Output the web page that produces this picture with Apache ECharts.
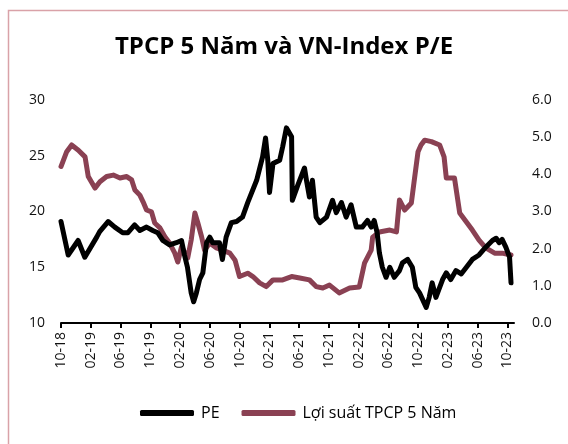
<!DOCTYPE html>
<html><head><meta charset="utf-8">
<script src="https://cdn.jsdelivr.net/npm/echarts@6/dist/echarts.min.js"></script>
<style>html,body{margin:0;padding:0;background:#fff}#c{width:568px;height:444px}</style>
</head><body><div id="c"></div>
<script>
const titleText = 'TPCP 5 Năm và VN-Index P/E';
const seriesNames = ['PE', 'Lợi suất TPCP 5 Năm'];
const tickLabels = ['10-18','02-19','06-19','10-19','02-20','06-20','10-20','02-21','06-21','10-21','02-22','06-22','10-22','02-23','06-23','10-23'];
const leftTicks = [10, 15, 20, 25, 30];
const rightTicks = [0, 1, 2, 3, 4, 5, 6];

const peDates = ['2018-10-01','2018-10-30','2018-12-10','2019-01-07','2019-02-25','2019-03-07','2019-04-11','2019-05-08','2019-06-10','2019-07-01','2019-07-28','2019-08-19','2019-09-16','2019-10-11','2019-11-01','2019-11-22','2019-12-19','2020-01-16','2020-02-07','2020-02-19','2020-03-01','2020-03-16','2020-03-26','2020-04-07','2020-04-20','2020-05-03','2020-05-18','2020-06-01','2020-06-13','2020-07-10','2020-07-22','2020-08-07','2020-08-28','2020-09-19','2020-10-13','2020-11-04','2020-12-10','2021-01-04','2021-01-16','2021-01-25','2021-02-02','2021-02-16','2021-03-13','2021-03-25','2021-04-10','2021-05-01','2021-05-04','2021-05-25','2021-06-23','2021-07-01','2021-07-13','2021-07-25','2021-08-10','2021-08-25','2021-09-22','2021-10-16','2021-11-01','2021-11-22','2021-12-11','2022-01-01','2022-01-22','2022-02-16','2022-03-07','2022-03-22','2022-04-04','2022-04-16','2022-04-25','2022-05-07','2022-05-22','2022-06-07','2022-06-25','2022-07-16','2022-07-28','2022-08-19','2022-09-08','2022-09-22','2022-10-07','2022-11-04','2022-11-16','2022-11-28','2022-12-13','2023-01-10','2023-01-25','2023-02-13','2023-03-04','2023-03-25','2023-04-16','2023-05-10','2023-06-07','2023-07-04','2023-08-01','2023-08-16','2023-08-28','2023-09-10','2023-09-25','2023-10-10','2023-10-16'];
const peValues = [19.1,16.1,17.4,15.9,17.7,18.2,19.1,18.6,18.1,18.1,18.8,18.3,18.6,18.3,18.1,17.4,17.0,17.2,17.4,16.1,15.0,12.7,11.9,12.7,13.9,14.5,17.2,17.7,17.2,17.2,15.7,17.7,19.0,19.1,19.5,20.8,22.8,24.9,26.6,24.6,21.7,24.3,24.6,25.8,27.5,26.7,21.0,22.3,23.9,22.8,21.3,22.8,19.5,19.0,19.5,21.0,19.9,20.8,19.5,20.6,18.6,18.6,19.2,18.6,19.2,18.1,16.3,15.0,14.1,15.0,14.1,14.7,15.4,15.7,15.0,13.2,12.7,11.4,12.3,13.6,12.3,13.9,14.5,13.9,14.7,14.4,15.0,15.7,16.1,16.8,17.4,17.6,17.2,17.5,16.8,15.9,13.6];

const ylDates = ['2018-10-01','2018-10-24','2018-11-14','2018-12-11','2019-01-08','2019-01-21','2019-02-18','2019-03-08','2019-04-05','2019-05-02','2019-05-29','2019-06-26','2019-07-16','2019-07-29','2019-08-19','2019-09-02','2019-09-16','2019-10-06','2019-10-19','2019-11-10','2019-11-30','2019-12-19','2020-01-10','2020-01-22','2020-02-07','2020-02-20','2020-03-02','2020-03-16','2020-03-31','2020-04-13','2020-04-28','2020-05-10','2020-06-01','2020-06-28','2020-07-22','2020-08-22','2020-09-13','2020-10-01','2020-11-04','2020-11-25','2020-12-22','2021-01-19','2021-02-16','2021-03-25','2021-05-01','2021-06-04','2021-07-13','2021-08-10','2021-09-07','2021-10-04','2021-11-13','2021-12-25','2022-02-04','2022-02-25','2022-03-22','2022-03-28','2022-04-25','2022-06-07','2022-07-04','2022-07-16','2022-08-07','2022-09-04','2022-09-16','2022-10-01','2022-10-13','2022-10-28','2022-11-25','2022-12-28','2023-01-16','2023-01-25','2023-02-28','2023-03-19','2023-04-16','2023-05-10','2023-06-07','2023-07-04','2023-08-10','2023-09-10','2023-10-16'];
const ylValues = [4.21,4.61,4.79,4.65,4.47,3.94,3.63,3.80,3.94,3.98,3.90,3.94,3.85,3.58,3.44,3.26,3.04,2.99,2.69,2.56,2.32,2.15,1.88,1.64,2.05,1.90,1.75,2.23,2.96,2.69,2.32,1.96,2.15,2.02,1.96,1.88,1.69,1.25,1.34,1.25,1.08,0.98,1.16,1.16,1.25,1.21,1.16,0.98,0.94,1.02,0.81,0.94,0.97,1.61,1.96,2.31,2.45,2.50,2.45,3.31,3.04,3.23,3.85,4.61,4.79,4.92,4.88,4.79,4.47,3.90,3.90,2.96,2.72,2.50,2.23,2.02,1.88,1.88,1.83];

// month offset from Oct 2018
function monthIdx(s){const p=s.split('-').map(Number);return (p[0]-2018)*12+(p[1]-10)+(p[2]-1)/30;}
const tickPos = tickLabels.map((t,i)=>i*4);
const FONT = 'Open Sans';
const chart = echarts.init(document.getElementById('c'), null, {renderer:'canvas'});
chart.setOption({
  animation:false,
  textStyle:{fontFamily:FONT},
  graphic:[{type:'rect',shape:{x:8.5,y:10.5,width:700,height:600},style:{fill:'none',stroke:'#d9a2a8',lineWidth:1.5},silent:true}],
  title:{text:titleText,left:'center',top:30,textStyle:{fontFamily:FONT,fontWeight:'bold',fontSize:24,color:'#000'}},
  legend:{bottom:18,left:135,itemGap:22,itemWidth:54,itemHeight:6,icon:'roundRect',
    textStyle:{fontFamily:FONT,fontSize:16,color:'#000',padding:[0,0,0,2]},
    data:seriesNames},
  grid:{left:61,right:54,top:100,bottom:121},
  xAxis:{type:'value',min:0,max:60.9,interval:4,
    axisLine:{show:true,lineStyle:{color:'#000',width:2}},
    axisTick:{show:true,length:5,inside:false,lineStyle:{color:'#000',width:2},customValues:tickPos},
    splitLine:{show:false},
    axisLabel:{rotate:90,margin:9,fontSize:14,color:'#111',customValues:tickPos,
      formatter:(v)=>{const i=Math.round(v/4);return tickLabels[i]||'';}}},
  yAxis:[
    {type:'value',min:10,max:30,interval:5,axisLine:{show:false},axisTick:{show:false},splitLine:{show:false},
     axisLabel:{fontSize:14,color:'#111',margin:16}},
    {type:'value',min:0,max:6,interval:1,axisLine:{show:false},axisTick:{show:false},splitLine:{show:false},
     axisLabel:{fontSize:14,color:'#111',margin:18,formatter:(v)=>v.toFixed(1)}}
  ],
  series:[
    {name:seriesNames[0],type:'line',yAxisIndex:0,showSymbol:false,symbol:'none',
     lineStyle:{color:'#000',width:5,join:'round',cap:'round'},itemStyle:{color:'#000'},
     data:peDates.map((d,i)=>[monthIdx(d),peValues[i]]),z:3},
    {name:seriesNames[1],type:'line',yAxisIndex:1,showSymbol:false,symbol:'none',
     lineStyle:{color:'#8a4153',width:5,join:'round',cap:'round'},itemStyle:{color:'#8a4153'},
     data:ylDates.map((d,i)=>[monthIdx(d),ylValues[i]]),z:2}
  ]
});
</script></body></html>
